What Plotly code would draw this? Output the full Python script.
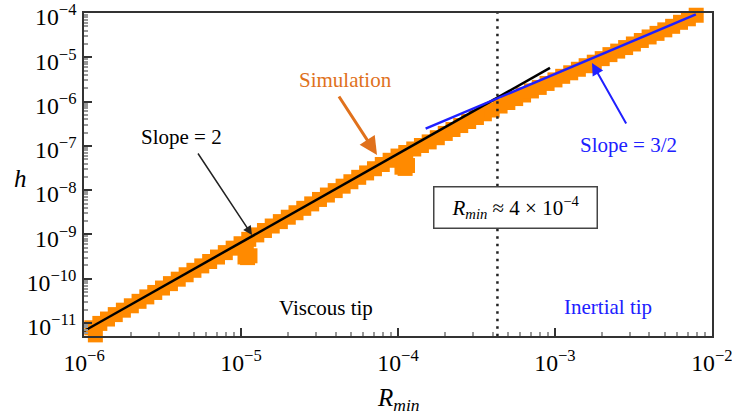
import plotly.graph_objects as go

# Simulated tip height h against minimum radius R_min
sim_R = [
    1.12e-6, 1.26e-6, 1.41e-6, 1.58e-6, 1.78e-6, 2.00e-6, 2.24e-6, 2.51e-6, 2.82e-6,
    3.16e-6, 3.55e-6, 3.98e-6, 4.47e-6, 5.01e-6, 5.62e-6, 6.31e-6, 7.08e-6, 7.94e-6, 8.91e-6,
    1.00e-5, 1.12e-5, 1.26e-5, 1.41e-5, 1.58e-5, 1.78e-5, 2.00e-5, 2.24e-5, 2.51e-5, 2.82e-5,
    3.16e-5, 3.55e-5, 3.98e-5, 4.47e-5, 5.01e-5, 5.62e-5, 6.31e-5, 7.08e-5, 7.94e-5, 8.91e-5,
    1.00e-4, 1.12e-4, 1.26e-4, 1.41e-4, 1.58e-4, 1.78e-4, 2.00e-4, 2.24e-4, 2.51e-4, 2.82e-4,
    3.16e-4, 3.55e-4, 3.98e-4, 4.47e-4, 5.01e-4, 5.62e-4, 6.31e-4, 7.08e-4, 7.94e-4, 8.91e-4,
    1.00e-3, 1.12e-3, 1.26e-3, 1.41e-3, 1.58e-3, 1.78e-3, 2.00e-3, 2.24e-3, 2.51e-3, 2.82e-3,
    3.16e-3, 3.55e-3, 3.98e-3, 4.47e-3, 5.01e-3, 5.62e-3, 6.31e-3, 7.08e-3, 7.94e-3,
]
sim_h = [
    7.8e-12, 9.8e-12, 1.23e-11, 1.55e-11, 1.95e-11, 2.45e-11, 3.09e-11, 3.89e-11, 4.90e-11,
    6.17e-11, 7.76e-11, 9.77e-11, 1.23e-10, 1.55e-10, 1.95e-10, 2.45e-10, 3.09e-10, 3.89e-10, 4.90e-10,
    6.17e-10, 7.76e-10, 9.77e-10, 1.23e-9, 1.55e-9, 1.95e-9, 2.45e-9, 3.09e-9, 3.89e-9, 4.90e-9,
    6.17e-9, 7.76e-9, 9.77e-9, 1.23e-8, 1.55e-8, 1.95e-8, 2.45e-8, 3.05e-8, 3.80e-8, 4.73e-8,
    5.89e-8, 7.08e-8, 8.51e-8, 1.02e-7, 1.23e-7, 1.53e-7, 1.91e-7, 2.34e-7, 2.88e-7, 3.55e-7,
    4.37e-7, 5.31e-7, 6.46e-7, 7.94e-7, 9.55e-7, 1.17e-6, 1.41e-6, 1.74e-6, 2.09e-6, 2.57e-6,
    3.09e-6, 3.72e-6, 4.47e-6, 5.37e-6, 6.46e-6, 7.76e-6, 9.33e-6, 1.15e-5, 1.38e-5, 1.66e-5,
    2.00e-5, 2.40e-5, 2.88e-5, 3.47e-5, 4.17e-5, 5.01e-5, 6.17e-5, 7.41e-5, 8.91e-5,
]

# Short drops in h just after each restart of the simulation
drop_R = [1.10e-6, 1.18e-6, 1.06e-5, 1.10e-5, 1.14e-5, 1.08e-5, 1.06e-4, 1.11e-4, 1.15e-4, 1.09e-4]
drop_h = [5.0e-12, 5.4e-12, 3.1e-10, 3.0e-10, 3.3e-10, 4.6e-10, 3.3e-8, 3.1e-8, 3.6e-8, 4.8e-8]

# Power-law guides
viscous_R = [1.0e-6, 9.3e-4]      # h ~ R^2
viscous_h = [6.6e-12, 5.75e-6]
inertial_R = [1.5e-4, 7.9e-3]     # h ~ R^(3/2)
inertial_h = [2.45e-7, 9.3e-5]

R_crossover = 4.3e-4
h_span = [5.0e-12, 1.0e-4]

x_range_log = [-6.0005, -1.9995]
y_range_log = [-11.293, -3.9995]

ORANGE = "#FF8A00"
ORANGE_TXT = "#E0711C"
BLUE = "#2020FF"
SERIF = "Liberation Serif"

fig = go.Figure()

fig.add_trace(go.Scatter(
    x=sim_R + drop_R, y=sim_h + drop_h, mode="markers",
    marker=dict(symbol="square", size=15, color=ORANGE, line=dict(width=0)),
    cliponaxis=False, hoverinfo="skip", showlegend=False,
))
fig.add_trace(go.Scatter(
    x=[R_crossover, R_crossover], y=h_span, mode="lines",
    line=dict(color="#222", width=2.5, dash="2.5px,5px"),
    showlegend=False, hoverinfo="skip",
))
fig.add_trace(go.Scatter(
    x=viscous_R, y=viscous_h, mode="lines",
    line=dict(color="black", width=2.5), showlegend=False,
))
fig.add_trace(go.Scatter(
    x=inertial_R, y=inertial_h, mode="lines",
    line=dict(color=BLUE, width=2.5), showlegend=False,
))

axis_common = dict(
    type="log", dtick=1, exponentformat="power", showexponent="all",
    ticks="inside", ticklen=8, tickwidth=1.5, tickcolor="#333",
    showline=True, linecolor="#333", linewidth=1.5, mirror=True,
    showgrid=False, zeroline=False, ticklabeloverflow="allow", automargin=False,
    tickfont=dict(family=SERIF, size=19, color="black"),
    minor=dict(ticks="inside", ticklen=4, tickcolor="#999", showgrid=False),
)

fig.update_layout(
    width=732, height=414,
    margin=dict(l=84, r=20, t=13, b=78, autoexpand=False),
    paper_bgcolor="white", plot_bgcolor="white",
    xaxis=dict(range=x_range_log, ticklabelstandoff=6, **axis_common),
    yaxis=dict(range=y_range_log, ticklabelshift=4, ticklabelstandoff=2, **axis_common),
    font=dict(family=SERIF, color="black"),
)

def px_to_paper(px, py):
    return (px - 84) / 628, (336 - py) / 323

def label(px, py, text, size=21, color="black", **kw):
    x, y = px_to_paper(px, py)
    fig.add_annotation(x=x, y=y, xref="paper", yref="paper", text=text,
                       xanchor="center", yanchor="middle",
                       showarrow=False, font=dict(family=SERIF, size=size, color=color), **kw)

def arrow(head, tail, color, width):
    x, y = px_to_paper(*head)
    fig.add_annotation(x=x, y=y, xref="paper", yref="paper", text="",
                       showarrow=True, ax=tail[0] - head[0], ay=tail[1] - head[1],
                       arrowcolor=color, arrowwidth=width, arrowhead=2, arrowsize=1.2,
                       standoff=0, startstandoff=0)

# Axis titles
label(398, 399, "<i>R</i><sub><i>min</i></sub>", size=25)
label(20, 178, "<i>h</i>", size=25)

# Annotations
label(345, 80, "Simulation", color=ORANGE_TXT)
arrow((377, 155), (338, 95), ORANGE_TXT, 3)
label(181, 137, "Slope = 2")
arrow((252, 235), (197, 152), "#222", 1.5)
label(628, 145, "Slope = 3/2", color=BLUE)
arrow((592, 63), (627, 125), BLUE, 2)
label(326, 308, "Viscous tip")
label(608, 307, "Inertial tip", color=BLUE)

bx, by = px_to_paper(515.5, 207)
fig.add_annotation(x=bx, y=by, xref="paper", yref="paper",
                   xanchor="center", yanchor="middle",
                   text="<i>R</i><sub><i>min</i></sub> ≈ 4 × 10<sup>−4</sup>",
                   showarrow=False, font=dict(family=SERIF, size=21, color="black"),
                   bgcolor="white", bordercolor="#444", borderwidth=1.5,
                   width=160, height=38, borderpad=1)

fig.write_html("out.html")
